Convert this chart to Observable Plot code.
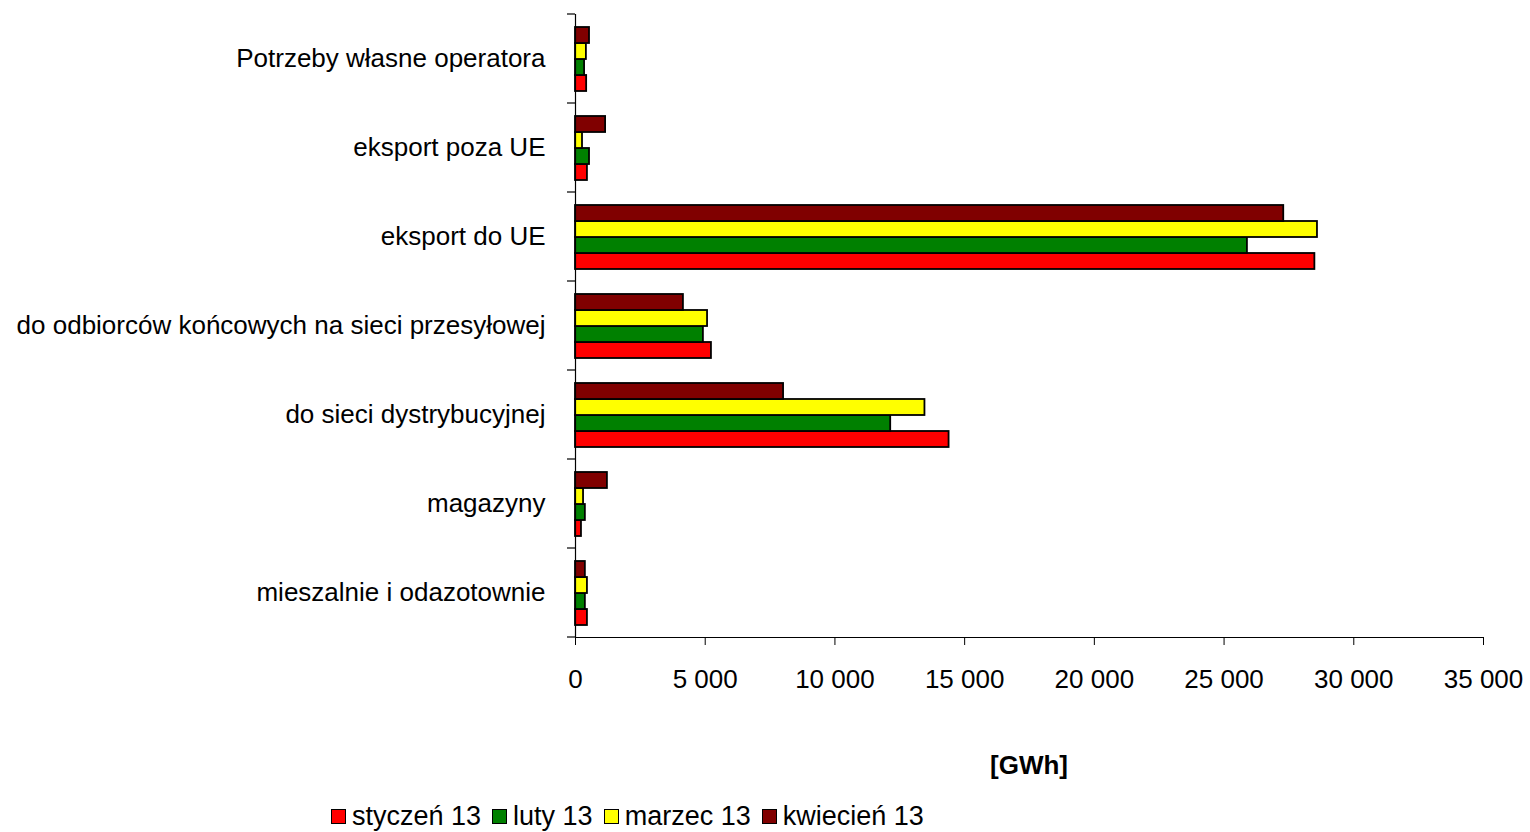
<!DOCTYPE html>
<html>
<head>
<meta charset="utf-8">
<script src="https://cdn.jsdelivr.net/npm/d3@7"></script>
<script src="https://cdn.jsdelivr.net/npm/@observablehq/plot@0.6"></script>
<style>
  html, body { margin: 0; padding: 0; background: white; }
  body { position: relative; width: 1530px; height: 832px; overflow: hidden;
         font-family: "Liberation Sans", Arial, sans-serif; color: black; }
  #chart { position: absolute; left: 0; top: 0; }
  #unit { position: absolute; left: 575px; width: 908px; top: 750px; text-align: center;
          font-weight: bold; font-size: 26px; line-height: 30px; }
  #legend { position: absolute; left: 331px; top: 801px; display: flex; align-items: center;
            font-size: 27px; line-height: 30px; white-space: nowrap; }
  .item { display: flex; align-items: center; margin-right: 11px; }
  .sw { width: 13px; height: 13px; border: 1.5px solid black; margin-right: 6px; }
</style>
</head>
<body>
<div id="chart"></div>
<div id="unit"></div>
<div id="legend"></div>
<script>
const categories = [
  "Potrzeby własne operatora",
  "eksport poza UE",
  "eksport do UE",
  "do odbiorców końcowych na sieci przesyłowej",
  "do sieci dystrybucyjnej",
  "magazyny",
  "mieszalnie i odazotownie"
];
const months = ["styczeń 13", "luty 13", "marzec 13", "kwiecień 13"];
const colors = ["#ff0000", "#008000", "#ffff00", "#800000"];
const styczen  = [430, 460, 28500, 5240, 14400, 230, 460];
const luty     = [350, 540, 25900, 4930, 12150, 380, 380];
const marzec   = [420, 270, 28600, 5090, 13470, 310, 460];
const kwiecien = [540, 1160, 27300, 4160, 8020, 1230, 380];
const xTicks = [0, 5000, 10000, 15000, 20000, 25000, 30000, 35000];
const unitLabel = "[GWh]";

const series = [styczen, luty, marzec, kwiecien];
const data = [];
categories.forEach((c, i) => {
  months.forEach((m, j) => data.push({category: c, month: m, value: series[j][i]}));
});

const fmt = d => d3.format(",")(d).replace(/,/g, " ");

const chart = Plot.plot({
  width: 1530,
  height: 700,
  marginLeft: 575,
  marginRight: 47,
  marginTop: 14,
  marginBottom: 63,
  style: {fontSize: "26px", fontFamily: "'Liberation Sans', Arial, sans-serif", background: "white", color: "black"},
  x: {domain: [0, 35000], ticks: xTicks, tickFormat: fmt, tickSize: 8, tickPadding: 24, label: null, line: true},
  y: {domain: months.slice().reverse(), axis: null, paddingInner: 0, paddingOuter: 0.69},
  fy: {domain: categories, axis: "left", label: null, tickSize: 0, tickPadding: 30, padding: 0},
  color: {domain: months, range: colors},
  marks: [
    Plot.barX(data, {x: "value", y: "month", fy: "category", fill: "month", stroke: "black", strokeWidth: 1.8}),
    Plot.ruleX([0], {stroke: "black", strokeWidth: 1.2})
  ]
});

const svg = chart.tagName && chart.tagName.toLowerCase() === "svg" ? chart : chart.querySelector("svg");
document.getElementById("chart").appendChild(chart);

// category boundary ticks on the left axis, from the library's own scales
const fyS = chart.scale("fy");
const xS = chart.scale("x");
const fyBand = d3.scaleBand().domain(fyS.domain).range(fyS.range).paddingInner(0).paddingOuter(0);
const xLin = d3.scaleLinear().domain(xS.domain).range(xS.range);
const x0 = xLin(0);
const bounds = categories.map(c => fyBand(c)).concat([fyBand(categories[categories.length - 1]) + fyBand.bandwidth()]);
d3.select(svg).append("g")
  .selectAll("line").data(bounds).join("line")
  .attr("x1", x0 - 8).attr("x2", x0)
  .attr("y1", d => d).attr("y2", d => d)
  .attr("stroke", "black").attr("stroke-width", 1.2);

document.getElementById("unit").textContent = unitLabel;
const legend = d3.select("#legend");
months.forEach((m, i) => {
  const it = legend.append("div").attr("class", "item");
  it.append("div").attr("class", "sw").style("background", colors[i]);
  it.append("span").text(m);
});
</script>
</body>
</html>
